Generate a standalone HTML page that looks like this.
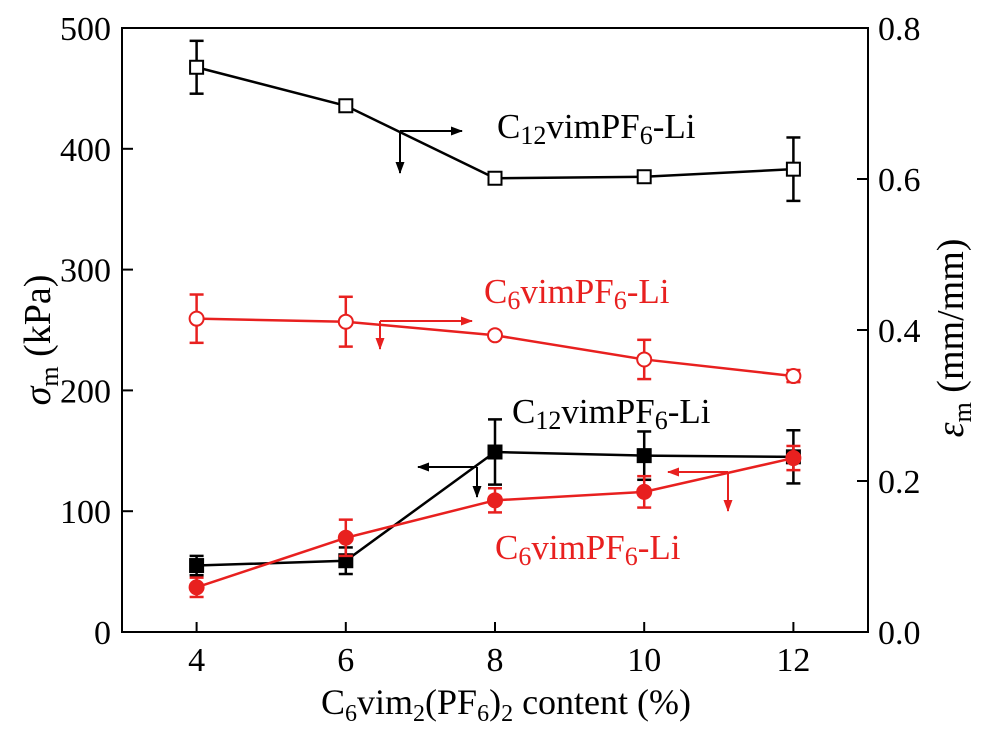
<!DOCTYPE html>
<html><head><meta charset="utf-8"><style>
body{margin:0;background:#fff}
svg text{font-family:"Liberation Serif",serif}
</style></head><body>
<svg id="chart" width="990" height="734" viewBox="0 0 990 734" xmlns="http://www.w3.org/2000/svg">
<defs>
<marker id="ak" markerWidth="12" markerHeight="9" refX="11" refY="4.5" orient="auto" markerUnits="userSpaceOnUse" viewBox="0 0 12 9"><path d="M0,0L12,4.5L0,9z" fill="#000"/></marker>
<marker id="ar" markerWidth="12" markerHeight="9" refX="11" refY="4.5" orient="auto" markerUnits="userSpaceOnUse" viewBox="0 0 12 9"><path d="M0,0L12,4.5L0,9z" fill="#e8201f"/></marker>
</defs>
<g id="axes"></g>
<g id="marks"></g>
<g id="annot"></g>
</svg>
<script>
const xCats=[4,6,8,10,12];
const xTicks=[4,6,8,10,12];
const yLeftTicks=[0,100,200,300,400,500];
const yRightTicks=[0.0,0.2,0.4,0.6,0.8];
const stressC12=[55,59,149,146,145];
const stressC12Err=[8,11,27,20,22];
const stressC6=[37,78,109,116,144];
const stressC6Err=[8,15,10,13,10];
const strainC12=[0.748,0.697,0.601,0.603,0.613];
const strainC12Err=[0.035,0.006,0.004,0.004,0.042];
const strainC6=[0.415,0.411,0.393,0.361,0.339];
const strainC6Err=[0.032,0.033,0.004,0.026,0.008];

const L=122,R=868,T=28,B=632;
const X=v=>L+(v-3)/10*(R-L);
const YL=v=>B-v/500*(B-T);
const YR=v=>B-v/0.8*(B-T);
const NS="http://www.w3.org/2000/svg";
function mk(tag,attrs,parent){const e=document.createElementNS(NS,tag);for(const k in attrs)e.setAttribute(k,attrs[k]);parent.appendChild(e);return e;}
const ax=document.getElementById('axes'),mg=document.getElementById('marks'),an=document.getElementById('annot');
let fr=mk('rect',{x:L,y:T,width:R-L,height:B-T,fill:'none',stroke:'#000','stroke-width':2},ax);


xTicks.forEach(v=>{
 let t=mk('line',{x1:X(v),x2:X(v),y1:B,y2:B-10,stroke:'#000','stroke-width':2},ax);
 
 
 let l=mk('text',{x:X(v),y:B+39,'font-size':34,'text-anchor':'middle'},ax);l.textContent=v;
 
 
});
yLeftTicks.forEach(v=>{
 let t=mk('line',{x1:L,x2:L+11,y1:YL(v),y2:YL(v),stroke:'#000','stroke-width':2},ax);
 
 
 let l=mk('text',{x:L-11,y:YL(v)+12,'font-size':34,'text-anchor':'end'},ax);l.textContent=v;
 
 
});
yRightTicks.forEach(v=>{
 let t=mk('line',{x1:R,x2:R-11,y1:YR(v),y2:YR(v),stroke:'#000','stroke-width':2},ax);
 
 
 let l=mk('text',{x:R+10,y:YR(v)+12,'font-size':34},ax);l.textContent=v.toFixed(1);
 
 
});
let xt=mk('text',{x:506,y:714,'font-size':36,'text-anchor':'middle'},ax);
xt.innerHTML='C<tspan font-size="24" dy="7">6</tspan><tspan dy="-7">vim</tspan><tspan font-size="24" dy="7">2</tspan><tspan dy="-7">(PF</tspan><tspan font-size="24" dy="7">6</tspan><tspan dy="-7">)</tspan><tspan font-size="24" dy="7">2</tspan><tspan dy="-7"> content (%)</tspan>';


let yt=mk('text',{x:0,y:0,'font-size':38,'text-anchor':'middle',transform:'translate(50,340) rotate(-90)'},ax);
yt.innerHTML='<tspan font-style="italic">σ</tspan><tspan font-size="26" dy="8">m</tspan><tspan dy="-8"> (kPa)</tspan>';


let yt2=mk('text',{x:0,y:0,'font-size':38,'text-anchor':'middle',transform:'translate(963,338) rotate(-90)'},ax);
yt2.innerHTML='<tspan font-style="italic">ε</tspan><tspan font-size="26" dy="8">m</tspan><tspan dy="-8"> (mm/mm)</tspan>';



function series(vals,errs,Y,color,shape,filled,name){
 const g=mk('g',{},mg);
 
 
 mk('polyline',{points:vals.map((v,i)=>X(xCats[i])+','+Y(v)).join(' '),fill:'none',stroke:color,'stroke-width':2.5},g);
 vals.forEach((v,i)=>{
  const x=X(xCats[i]),y1=Y(v+errs[i]),y2=Y(v-errs[i]);
  mk('line',{x1:x,x2:x,y1:y1,y2:y2,stroke:color,'stroke-width':2.5},g);
  mk('line',{x1:x-7,x2:x+7,y1:y1,y2:y1,stroke:color,'stroke-width':2.5},g);
  mk('line',{x1:x-7,x2:x+7,y1:y2,y2:y2,stroke:color,'stroke-width':2.5},g);
  let m;
  if(shape==='sq')m=mk('rect',{x:x-6.5,y:Y(v)-6.5,width:13,height:13,fill:filled?color:'#fff',stroke:color,'stroke-width':2},g);
  else m=mk('circle',{cx:x,cy:Y(v),r:7,fill:filled?color:'#fff',stroke:color,'stroke-width':2},g);
  
  
 });
}
const RED='#e8201f';
series(strainC12,strainC12Err,YR,'#000','sq',false,'strain-c12-series');
series(strainC6,strainC6Err,YR,RED,'ci',false,'strain-c6-series');
series(stressC12,stressC12Err,YL,'#000','sq',true,'stress-c12-series');
series(stressC6,stressC6Err,YL,RED,'ci',true,'stress-c6-series');

function arrow(x1,y1,x2,y2,c,m,name){let a=mk('line',{x1,y1,x2,y2,stroke:c,'stroke-width':2,'marker-end':'url(#'+m+')'},an);
 
 }
arrow(400,131,462,131,'#000','ak','arrow-right');arrow(400,131,400,173,'#000','ak','arrow-down');
arrow(380,321,472,321,RED,'ar','arrow-right');arrow(380,321,380,349,RED,'ar','arrow-down');
arrow(477,467,418,467,'#000','ak','arrow-left');arrow(477,467,477,497,'#000','ak','arrow-down');
arrow(728,472,668,472,RED,'ar','arrow-left');arrow(728,472,728,511,RED,'ar','arrow-down');

function lab(x,y,c,n,name){let t=mk('text',{x,y,'font-size':35,fill:c},an);
 t.innerHTML='C<tspan font-size="26" dy="6">'+n+'</tspan><tspan dy="-6">vimPF</tspan><tspan font-size="26" dy="6">6</tspan><tspan dy="-6">-Li</tspan>';
 
 }
lab(497,138,'#000','12','label-c12-strain');
lab(484,303,RED,'6','label-c6-strain');
lab(512,423,'#000','12','label-c12-stress');
lab(495,559,RED,'6','label-c6-stress');
</script>
</body></html>
